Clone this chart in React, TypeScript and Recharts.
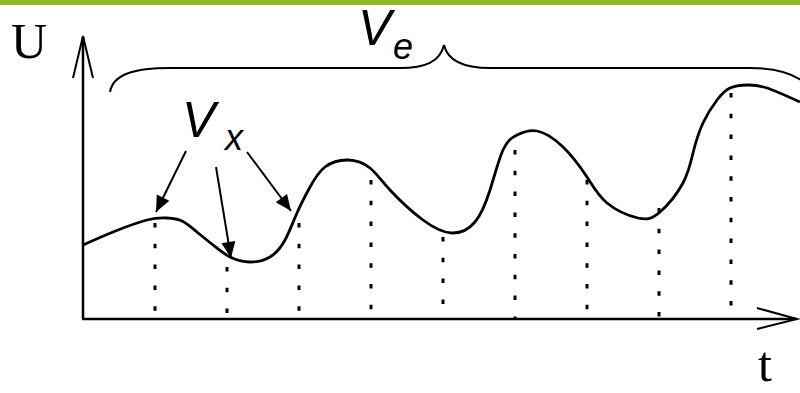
import React from 'react';
import { ComposedChart, Line, XAxis, YAxis, ReferenceLine } from 'recharts';

// continuous signal U(t)
const curveT = [
  0, 0.417, 0.889, 1.167, 1.375, 1.583, 1.806, 2.042, 2.319, 2.597, 2.806, 2.972, 3.153, 3.361,
  3.681, 3.986, 4.264, 4.722, 5.125, 5.444, 5.653, 5.833, 6.028, 6.306, 6.667, 7.0, 7.278, 7.708,
  8.014, 8.333, 8.472, 8.611, 8.806, 8.986, 9.222, 9.5, 9.958,
];
const curveU = [
  7.4, 8.7, 9.9, 10.1, 9.8, 8.7, 7.4, 6.2, 5.7, 6.2, 7.9, 10.6, 13.2, 15.2,
  15.9, 15.1, 12.9, 9.9, 8.6, 9.7, 12.9, 16.9, 18.4, 18.8, 17.2, 14.2, 11.6, 10.1,
  10.7, 13.6, 16.6, 19.6, 21.9, 23.1, 23.4, 23.1, 21.7,
];

// sampling instants and the height of each dotted line
const sampleT = [1, 2, 3, 4, 5, 6, 7, 8, 9];
const sampleU = [9.6, 5.2, 9.6, 13.9, 8.2, 16.9, 13.9, 11.1, 22.6];

const W = 800;
const H = 393;

const chartData = curveT.map((t, i) => ({ t, u: curveU[i] }));

const arrowHead = (x1: number, y1: number, x2: number, y2: number, len = 16, half = 7) => {
  const dx = x2 - x1;
  const dy = y2 - y1;
  const d = Math.hypot(dx, dy);
  const ux = dx / d;
  const uy = dy / d;
  const bx = x2 - ux * len;
  const by = y2 - uy * len;
  return `${x2},${y2} ${bx - uy * half},${by + ux * half} ${bx + uy * half},${by - ux * half}`;
};

const vxArrows = [
  [186, 151, 156, 212],
  [216, 167, 231, 258],
  [247, 152, 291, 211],
];

const Overlay: React.FC = () => (
  <svg width={W} height={H} style={{ position: 'absolute', left: 0, top: 0, pointerEvents: 'none' }}>
    <rect x={0} y={0} width={W} height={5} fill="#8cbb1f" />
    {/* axes */}
    <line x1={83} y1={319} x2={83} y2={37} stroke="#000" strokeWidth={2.5} />
    <polyline points="73,78 83,36 93,78" fill="none" stroke="#000" strokeWidth={2} />
    <line x1={82} y1={319} x2={796} y2={319} stroke="#000" strokeWidth={2.5} />
    <polyline points="757,308 797,319 757,329" fill="none" stroke="#000" strokeWidth={2} />
    {/* brace */}
    <path
      d="M110,92 C113,74 135,68 170,68 L400,68 C425,68 440,62 444,45 C448,62 465,68 490,68 L750,68 C775,68 795,74 806,84"
      fill="none"
      stroke="#000"
      strokeWidth={2}
    />
    {vxArrows.map(([x1, y1, x2, y2], i) => (
      <g key={i}>
        <line x1={x1} y1={y1} x2={x2} y2={y2} stroke="#000" strokeWidth={2} />
        <polygon points={arrowHead(x1, y1, x2, y2)} fill="#000" />
      </g>
    ))}
    <text x={11} y={58} fontFamily="Liberation Serif" fontSize={50}>U</text>
    <text x={758} y={381} fontFamily="Liberation Serif" fontSize={50}>t</text>
    <text x={358} y={45} fontFamily="Liberation Sans" fontStyle="italic" fontSize={50}>V</text>
    <text x={393} y={59} fontFamily="Liberation Sans" fontStyle="italic" fontSize={36}>e</text>
    <text x={182} y={137} fontFamily="Liberation Sans" fontStyle="italic" fontSize={50}>V</text>
    <text x={225} y={150} fontFamily="Liberation Sans" fontStyle="italic" fontSize={36}>x</text>
  </svg>
);

export default function App() {
  return (
    <div style={{ position: 'absolute', left: 0, top: 0, width: W, height: H, overflow: 'hidden', background: '#fff' }}>
      <ComposedChart
        width={803}
        height={H}
        data={chartData}
        margin={{ top: 9, right: 0, bottom: 74, left: 83 }}
      >
        <XAxis dataKey="t" type="number" domain={[0, 10]} hide />
        <YAxis type="number" domain={[0, 31]} hide />
        {sampleT.map((t, i) => (
          <ReferenceLine
            key={t}
            segment={[{ x: t, y: sampleU[i] }, { x: t, y: 0 }]}
            stroke="#000"
            strokeWidth={3}
            strokeDasharray="4.5 16.3"
          />
        ))}
        <Line
          type="natural"
          dataKey="u"
          stroke="#000"
          strokeWidth={2.8}
          dot={false}
          isAnimationActive={false}
        />
      </ComposedChart>
      <Overlay />
    </div>
  );
}
